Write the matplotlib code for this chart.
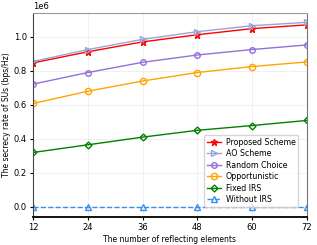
import matplotlib
matplotlib.use("Agg")
import matplotlib.pyplot as plt
import numpy as np

elements = [12, 24, 36, 48, 60, 72]
proposed = [0.847e6, 0.912e6, 0.970e6, 1.012e6, 1.048e6, 1.070e6]
ao_scheme = [0.855e6, 0.925e6, 0.985e6, 1.030e6, 1.065e6, 1.085e6]
random_choice = [0.722e6, 0.790e6, 0.850e6, 0.893e6, 0.925e6, 0.952e6]
opportunistic = [0.608e6, 0.680e6, 0.740e6, 0.790e6, 0.825e6, 0.852e6]
fixed_irs = [0.320e6, 0.365e6, 0.410e6, 0.450e6, 0.478e6, 0.508e6]
without_irs = [0, 0, 0, 0, 0, 0]

plt.rcParams['font.size'] = 6

fig, ax = plt.subplots(figsize=(3.17, 2.45), dpi=100)
ax.plot(elements, proposed, color='red', marker='*', mfc='none', ms=4.5, lw=1, label='Proposed Scheme')
ax.plot(elements, ao_scheme, color='#9aa5d6', marker='>', mfc='none', ms=4.5, lw=1, label='AO Scheme')
ax.plot(elements, random_choice, color='mediumpurple', marker='o', mfc='none', ms=4, lw=1, label='Random Choice')
ax.plot(elements, opportunistic, color='orange', marker='o', mfc='none', ms=4.5, lw=1, label='Opportunistic')
ax.plot(elements, fixed_irs, color='green', marker='D', mfc='none', ms=3.5, lw=1, label='Fixed IRS')
ax.plot(elements, without_irs, color='#3a8ef0', marker='^', mfc='none', ms=4.5, lw=1, ls='--', label='Without IRS')

ax.set_xlim(12, 72)
ax.set_ylim(-0.06e6, 1.14e6)
ax.set_xticks(elements)
ax.set_yticks([0, 0.2e6, 0.4e6, 0.6e6, 0.8e6, 1.0e6])
ax.grid(color='#eeeeee', lw=0.6)
ax.set_xlabel('The number of reflecting elements', fontsize=5.5, labelpad=2)
ax.set_ylabel('The secrecy rate of SUs (bps/Hz)', fontsize=5.5, labelpad=2)
ax.tick_params(labelsize=6, length=2.5, pad=2)
ax.spines['left'].set_color('#444444')
ax.spines['bottom'].set_color('black')
ax.spines['bottom'].set_linewidth(1.3)
ax.spines['top'].set_color('#999999')
ax.spines['right'].set_color('#777777')
ax.legend(loc='lower right', fontsize=5.7, handlelength=1.8, labelspacing=0.32,
          borderpad=0.35, handletextpad=0.6, bbox_to_anchor=(0.985, 0.03))
fig.subplots_adjust(left=0.105, right=0.967, top=0.947, bottom=0.114)
fig.savefig('out.png', dpi=100)
